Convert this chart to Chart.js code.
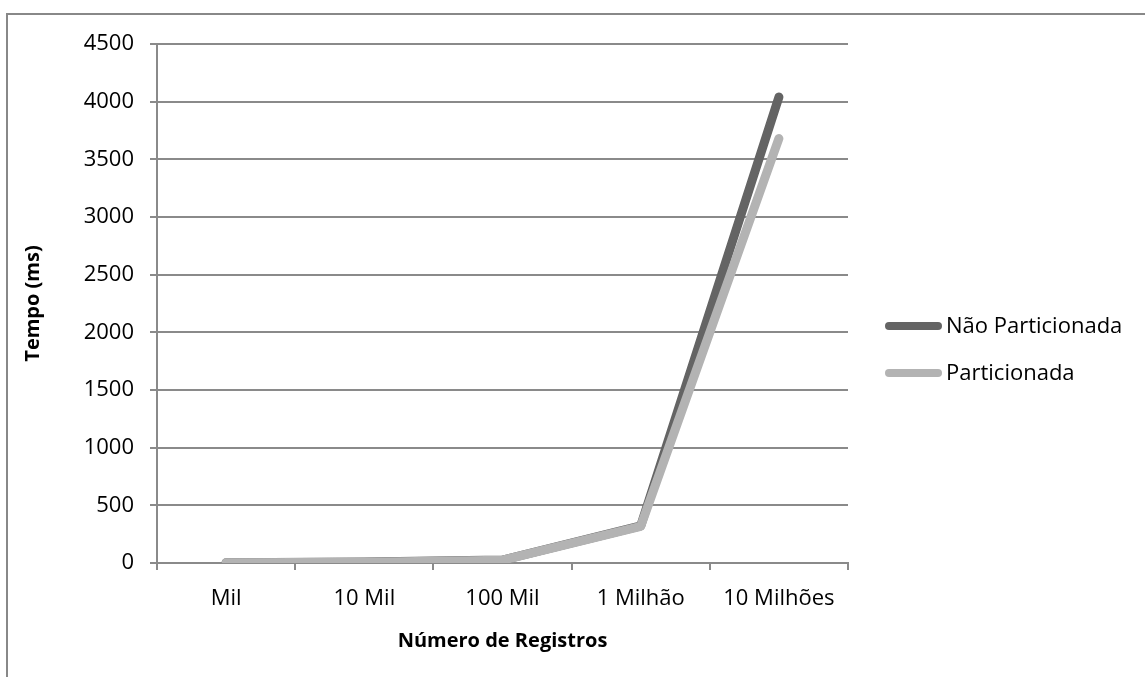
<!DOCTYPE html>
<html>
<head>
<meta charset="utf-8">
<script src="https://cdn.jsdelivr.net/npm/chart.js@4/dist/chart.umd.min.js"></script>
<style>
  html, body { margin: 0; padding: 0; background: #fff; }
  #wrap { position: relative; width: 1145px; height: 677px; }
</style>
</head>
<body>
<div id="wrap"><canvas id="chart" width="1145" height="677"></canvas></div>
<script>
// Categories and series values
const categories = ['Mil', '10 Mil', '100 Mil', '1 Milhão', '10 Milhões'];
const naoParticionada = [3, 8, 26, 322, 4040];
const particionada = [2, 6, 24, 318, 3680];
const seriesNames = ['Não Particionada', 'Particionada'];
const yTicks = [0, 500, 1000, 1500, 2000, 2500, 3000, 3500, 4000, 4500];

const FONT = '"Open Sans", Lato, sans-serif';
const GRID = '#8a8a8a';

// Outer frame around the chart
const framePlugin = {
  id: 'frame',
  beforeDraw(chart) {
    const ctx = chart.ctx;
    ctx.save();
    ctx.fillStyle = '#fff';
    ctx.fillRect(0, 0, chart.width, chart.height);
    ctx.strokeStyle = '#888';
    ctx.lineWidth = 2;
    ctx.beginPath();
    ctx.moveTo(7, chart.height + 2);
    ctx.lineTo(7, 14);
    ctx.lineTo(chart.width + 2, 14);
    ctx.stroke();
    ctx.restore();
  }
};

// Legend on the right: line swatch followed by label
const sideLegend = {
  id: 'sideLegend',
  afterDraw(chart) {
    const ctx = chart.ctx;
    const x0 = 889, x1 = 938, tx = 946;
    const ys = [326, 373];
    ctx.save();
    chart.data.datasets.forEach((ds, i) => {
      ctx.strokeStyle = ds.borderColor;
      ctx.lineWidth = 8;
      ctx.lineCap = 'round';
      ctx.beginPath();
      ctx.moveTo(x0, ys[i]);
      ctx.lineTo(x1, ys[i]);
      ctx.stroke();
      ctx.fillStyle = '#000';
      ctx.font = '22px ' + FONT;
      ctx.textBaseline = 'middle';
      ctx.textAlign = 'left';
      ctx.fillText(ds.label, tx, ys[i] + 1);
    });
    ctx.restore();
  }
};

new Chart(document.getElementById('chart'), {
  type: 'line',
  data: {
    labels: categories,
    datasets: [
      {
        label: seriesNames[0],
        data: naoParticionada,
        borderColor: '#646464',
        borderWidth: 9,
        borderCapStyle: 'round',
        borderJoinStyle: 'round',
        pointRadius: 0,
        tension: 0,
        order: 2
      },
      {
        label: seriesNames[1],
        data: particionada,
        borderColor: '#b3b3b3',
        borderWidth: 9,
        borderCapStyle: 'round',
        borderJoinStyle: 'round',
        pointRadius: 0,
        tension: 0,
        order: 1
      }
    ]
  },
  options: {
    responsive: false,
    animation: false,
    layout: { padding: { left: 21, top: 44, right: 297, bottom: 24 } },
    plugins: {
      legend: { display: false },
      tooltip: { enabled: false }
    },
    scales: {
      x: {
        type: 'category',
        offset: true,
        grid: {
          offset: true,
          drawOnChartArea: false,
          drawTicks: true,
          tickLength: 7,
          color: GRID,
          lineWidth: 2
        },
        border: { display: true, color: GRID, width: 2 },
        ticks: {
          color: '#000',
          font: { family: FONT, size: 22 },
          padding: 16,
          maxRotation: 0
        },
        title: {
          display: true,
          text: 'Número de Registros',
          color: '#000',
          font: { family: FONT, size: 20, weight: 'bold' },
          padding: 0
        },
        afterFit(scale) { scale.height = 90; }
      },
      y: {
        min: 0,
        max: 4500,
        afterBuildTicks(scale) { scale.ticks = yTicks.map(v => ({ value: v })); },
        grid: {
          color: GRID,
          lineWidth: 2,
          drawTicks: true,
          tickLength: 7
        },
        border: { display: true, color: GRID, width: 2 },
        ticks: {
          color: '#000',
          font: { family: FONT, size: 22 },
          padding: 16,
          callback: (v) => String(v)
        },
        title: {
          display: true,
          text: 'Tempo (ms)',
          color: '#000',
          font: { family: FONT, size: 20, weight: 'bold' },
          padding: 0
        },
        afterFit(scale) { scale.width = 136; }
      }
    }
  },
  plugins: [framePlugin, sideLegend]
});
</script>
</body>
</html>
